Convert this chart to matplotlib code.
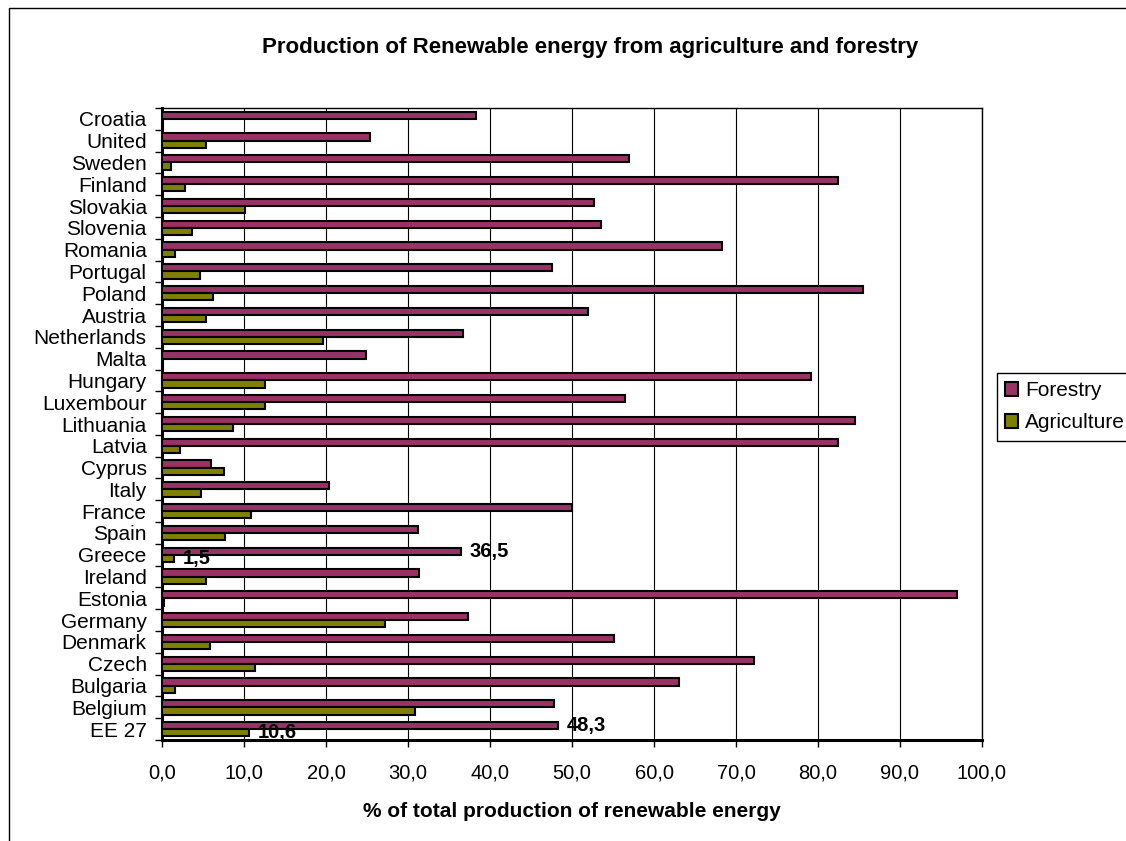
import numpy as np
import matplotlib
matplotlib.use("Agg")
import matplotlib.pyplot as plt
from matplotlib.lines import Line2D
from matplotlib.ticker import FixedLocator, FuncFormatter

plt.rcParams["font.family"] = ["Liberation Sans", "DejaVu Sans"]

# -----------------------
# Data (bottom to top, as drawn)
# -----------------------
countries = ["EE 27", "Belgium", "Bulgaria", "Czech", "Denmark", "Germany", "Estonia",
             "Ireland", "Greece", "Spain", "France", "Italy", "Cyprus", "Latvia",
             "Lithuania", "Luxembour", "Hungary", "Malta", "Netherlands", "Austria",
             "Poland", "Portugal", "Romania", "Slovenia", "Slovakia", "Finland",
             "Sweden", "United", "Croatia"]
forestry = [48.3, 47.8, 63.0, 72.2, 55.1, 37.3, 97.0,
            31.4, 36.5, 31.2, 50.0, 20.4, 6.0, 82.4,
            84.5, 56.5, 79.2, 24.9, 36.7, 52.0,
            85.5, 47.5, 68.3, 53.5, 52.7, 82.5,
            56.9, 25.4, 38.3]
agriculture = [10.6, 30.8, 1.6, 11.3, 5.8, 27.2, 0.2,
               5.4, 1.5, 7.7, 10.9, 4.8, 7.6, 2.2,
               8.7, 12.6, 12.6, 0.0, 19.6, 5.4,
               6.2, 4.6, 1.6, 3.7, 10.1, 2.75,
               1.1, 5.4, 0.0]
# data labels shown on the chart: (category, series, text)
labels_shown = [("EE 27", "Forestry", "48,3"), ("EE 27", "Agriculture", "10,6"),
                ("Greece", "Forestry", "36,5"), ("Greece", "Agriculture", "1,5")]
xticks = [0, 10, 20, 30, 40, 50, 60, 70, 80, 90, 100]

FOREST_COL = "#993366"
AGRI_COL = "#808000"

# -----------------------
# Figure
# -----------------------
W, H = 1126, 841
fig = plt.figure(figsize=(W / 100, H / 100), dpi=100)
ax = fig.add_axes([162 / W, 1 - 740 / H, (982 - 162) / W, (740 - 108) / H])

y = np.arange(len(countries))
h = 0.33
ax.barh(y + h / 2, forestry, height=h, color=FOREST_COL, edgecolor="black",
        linewidth=1.5, label="Forestry", zorder=3)
ax.barh(y - h / 2, agriculture, height=h, color=AGRI_COL, edgecolor="black",
        linewidth=1.5, label="Agriculture", zorder=3)

# data labels
for cat, series, txt in labels_shown:
    i = countries.index(cat)
    if series == "Forestry":
        xv, yv = forestry[i], i + h / 2
    else:
        xv, yv = agriculture[i], i - h / 2
    ax.annotate(txt, (xv, yv), xytext=(6, 0), textcoords="offset points",
                ha="left", va="center", fontsize=14.5, fontweight="bold", zorder=4)

ax.set_xlim(0, 100)
ax.set_ylim(-0.5, len(countries) - 0.5)

ax.xaxis.set_major_locator(FixedLocator(xticks))
ax.xaxis.set_major_formatter(FuncFormatter(lambda v, p: f"{v:.1f}".replace(".", ",")))
ax.tick_params(axis="x", direction="out", length=5, width=1, labelsize=14.5, pad=12)
ax.grid(axis="x", color="black", linewidth=0.8, zorder=0)

ax.set_yticks(y)
ax.set_yticklabels(countries, fontsize=15)
ax.tick_params(axis="y", which="major", length=0, pad=11)
ax.set_yticks(np.arange(-0.5, len(countries), 1.0), minor=True)
ax.tick_params(axis="y", which="minor", direction="out", length=5, width=1)

for side in ["top", "right"]:
    ax.spines[side].set_linewidth(1.0)
for side in ["left", "bottom"]:
    ax.spines[side].set_linewidth(2.2)

ax.set_xlabel("% of total production of renewable energy", fontsize=15,
              fontweight="bold", labelpad=14)

fig.text(0.524, 1 - 47 / H, "Production of Renewable energy from agriculture and forestry",
         ha="center", va="center", fontsize=16, fontweight="bold")

leg = fig.legend(loc="upper left", bbox_to_anchor=(997 / W, 1 - 373 / H), fontsize=15,
                 frameon=True, fancybox=False, edgecolor="black", framealpha=1,
                 handlelength=0.6, handleheight=0.6, handletextpad=0.35,
                 borderpad=0.4, labelspacing=0.62, borderaxespad=0)
leg.get_frame().set_linewidth(1.0)

# chart area border (cropped on right and bottom)
fig.add_artist(Line2D([9 / W, 9 / W, 1.0], [0.0, 1 - 8 / H, 1 - 8 / H],
                      color="black", linewidth=1.0, transform=fig.transFigure))

fig.savefig("out.png", dpi=100)
